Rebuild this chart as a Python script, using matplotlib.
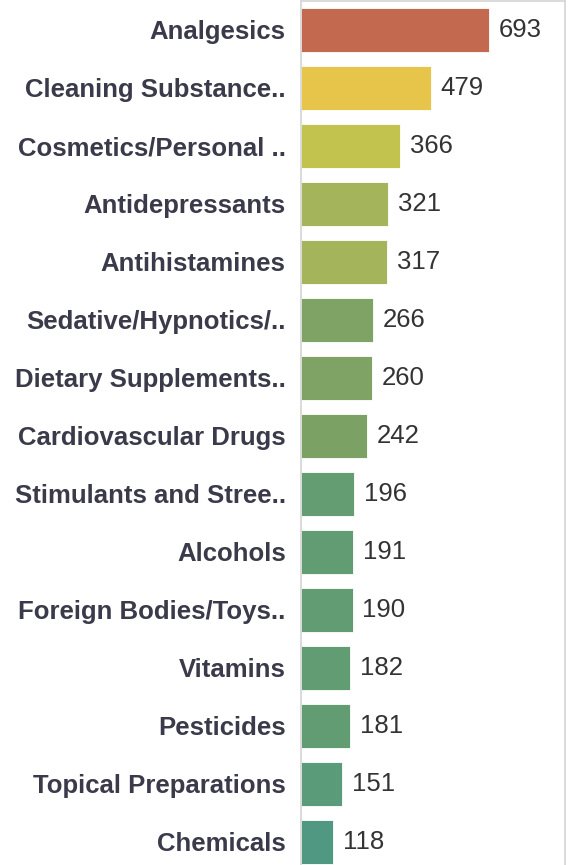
import matplotlib.pyplot as plt
import numpy as np

categories = ["Analgesics", "Cleaning Substance..", "Cosmetics/Personal ..",
              "Antidepressants", "Antihistamines", "Sedative/Hypnotics/..",
              "Dietary Supplements..", "Cardiovascular Drugs", "Stimulants and Stree..",
              "Alcohols", "Foreign Bodies/Toys..", "Vitamins", "Pesticides",
              "Topical Preparations", "Chemicals"]
counts = [693, 479, 366, 321, 317, 266, 260, 242, 196, 191, 190, 182, 181, 151, 118]
colors = ["#C3694F", "#E7C44A", "#C2C34F", "#A3B45A", "#A3B45A", "#7EA364",
          "#7EA364", "#7BA264", "#659D72", "#629C73", "#629C73", "#629C73",
          "#629C73", "#5A9B7A", "#519883"]

W, H = 568, 865
fig = plt.figure(figsize=(W / 100, H / 100), dpi=100)
ax = fig.add_axes([301 / W, 0, 264 / W, 864 / H])

y = np.arange(len(categories))
ax.barh(y, counts, height=0.76, color=colors, edgecolor="white", linewidth=0.6)

# value labels next to each bar
for yi, v in zip(y, counts):
    ax.text(v + 36, yi, str(v), va="center", ha="left", fontsize=18.5,
            color="#333333", family="Liberation Sans")

ax.set_xlim(0, 973)
ax.set_ylim(14.4, -0.5)
ax.set_yticks(y)
ax.set_yticklabels(categories, fontsize=18.5, fontweight="bold",
                   color="#3a3a4a", family="Liberation Sans")
ax.tick_params(axis="y", length=0, pad=11)
ax.set_xticks([])

for s in ["left", "top", "right"]:
    ax.spines[s].set_color("#d4d4d4")
    ax.spines[s].set_linewidth(1.2)
ax.spines["bottom"].set_visible(False)

fig.savefig("out.png", dpi=100)
